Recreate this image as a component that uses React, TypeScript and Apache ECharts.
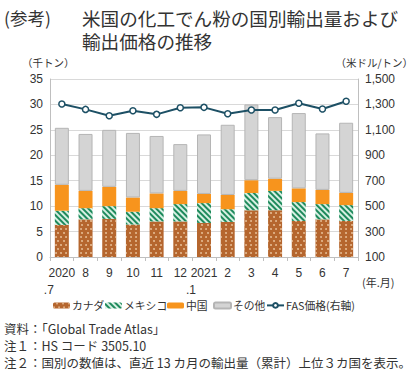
import React, { useEffect, useRef } from "react";
import * as echarts from "echarts";

const categories = ["2020\n.7", "8", "9", "10", "11", "12", "2021\n.1", "2", "3", "4", "5", "6", "7"];
const canada = [6.3, 7.4, 7.5, 6.4, 7.0, 7.0, 6.7, 6.9, 9.2, 9.2, 7.1, 7.4, 7.1];
const mexico = [2.8, 2.2, 2.5, 2.5, 2.6, 3.4, 3.9, 2.5, 3.4, 3.8, 3.7, 3.0, 3.1];
const china = [5.1, 3.4, 3.8, 2.8, 2.9, 2.6, 1.8, 2.8, 2.5, 2.4, 2.7, 2.8, 2.4];
const others = [11.2, 11.2, 11.2, 12.7, 11.3, 9.2, 11.7, 13.8, 14.9, 12.1, 14.8, 11.1, 13.8];
const fasPrice = [1303, 1261, 1211, 1250, 1222, 1274, 1277, 1227, 1256, 1256, 1309, 1264, 1325];
const seriesNames = ["カナダ", "メキシコ", "中国", "その他", "FAS価格(右軸)"];

const RIGHT_MIN = 100;
const FONT = "'Liberation Sans', 'Noto Sans CJK JP', sans-serif";
const JFONT = "'Noto Sans CJK JP', sans-serif";
const legendLeft = [53, 105, 167, 213, 266];

export default function App() {
  const ref = useRef<HTMLDivElement>(null);
  useEffect(() => {
    if (!ref.current) return;
    const chart = echarts.init(ref.current, undefined, { renderer: "svg" });
    chart.setOption({
      animation: false,
      textStyle: { fontFamily: FONT },
      grid: { left: 50, right: 62, top: 79, bottom: 116 },
      legend: seriesNames.map((n, i) => ({
        left: legendLeft[i],
        top: 300,
        padding: 0,
        itemWidth: 17,
        itemHeight: 6,
        textStyle: { fontSize: 10.8, color: "#333", fontFamily: JFONT, padding: [0, 0, 0, -3] },
        data: [n],
      })),
      xAxis: {
        type: "category",
        data: categories,
        axisLine: { lineStyle: { color: "#bfbfbf" } },
        axisTick: { show: true, length: 4, lineStyle: { color: "#bfbfbf" } },
        axisLabel: {
          interval: 0,
          margin: 7,
          color: "#333",
          fontSize: 12,
          lineHeight: 17,
          formatter: (v: string) => {
            const parts = v.split("\n");
            if (parts.length > 1) return `{a|${parts[0]}}\n{b|${parts[1]}}`;
            return `{a|${v}}`;
          },
          rich: {
            a: { fontSize: 12, color: "#333", fontFamily: FONT, lineHeight: 17 },
            b: { fontSize: 12, color: "#333", fontFamily: FONT, lineHeight: 17, padding: [0, 26, 0, 0] },
          },
        },
      },
      yAxis: [
        {
          type: "value",
          min: 0,
          max: 35,
          interval: 5,
          axisLine: { show: true, lineStyle: { color: "#bfbfbf" } },
          axisTick: { show: false },
          splitLine: { lineStyle: { color: "#d9d9d9" } },
          axisLabel: { color: "#333", fontSize: 12, margin: 7 },
        },
        {
          type: "value",
          min: 0,
          max: 1400,
          interval: 200,
          position: "right",
          axisLine: { show: true, lineStyle: { color: "#bfbfbf" } },
          axisTick: { show: false },
          splitLine: { show: false },
          axisLabel: {
            color: "#333",
            fontSize: 12,
            margin: 7,
            formatter: (v: number) => (v + RIGHT_MIN).toLocaleString("en-US"),
          },
        },
      ],
      series: [
        {
          name: seriesNames[0],
          type: "bar",
          stack: "t",
          barWidth: 14,
          data: canada,
          itemStyle: {
            color: "#b5662e",
            decal: {
              symbol: "circle",
              symbolSize: 0.8,
              color: "rgba(250,225,190,0.85)",
              dashArrayX: [[2, 3], [0, 2.5, 2, 0.5]],
              dashArrayY: [2, 1.5],
            },
          },
        },
        {
          name: seriesNames[1],
          type: "bar",
          stack: "t",
          data: mexico,
          itemStyle: {
            color: "#d6efe2",
            decal: {
              symbol: "rect",
              symbolSize: 1,
              color: "#1e8a5c",
              dashArrayX: [[1, 0]],
              dashArrayY: [1.4, 1.2],
              rotation: Math.PI / 4,
            },
          },
        },
        {
          name: seriesNames[2],
          type: "bar",
          stack: "t",
          data: china,
          itemStyle: { color: "#f7941d" },
        },
        {
          name: seriesNames[3],
          type: "bar",
          stack: "t",
          data: others,
          itemStyle: { color: "#d4d4d4", borderColor: "#b5b5b5", borderWidth: 1 },
        },
        {
          name: seriesNames[4],
          type: "line",
          yAxisIndex: 1,
          data: fasPrice.map((v) => v - RIGHT_MIN),
          symbol: "circle",
          symbolSize: 6,
          lineStyle: { color: "#1d5065", width: 2 },
          itemStyle: { color: "#ffffff", borderColor: "#1d5065", borderWidth: 1.5 },
        },
      ],
      graphic: [
        { type: "text", left: 4, top: 7, style: { text: "(参考)", fontSize: 17.5, lineHeight: 20, fill: "#333", fontFamily: JFONT } },
        {
          type: "text",
          left: 82,
          top: 6,
          style: {
            text: "米国の化工でん粉の国別輸出量および\n輸出価格の推移",
            fontSize: 18.6,
            lineHeight: 23,
            fill: "#333",
            fontFamily: JFONT,
          },
        },
        { type: "text", left: 22, top: 57, style: { text: "（千トン）", fontSize: 10.5, fill: "#333", fontFamily: JFONT } },
        { type: "text", right: 7, top: 57, style: { text: "（米ドル/トン）", fontSize: 10.5, fill: "#333", fontFamily: JFONT } },
        { type: "text", left: 362, top: 276, style: { text: "(年.月)", fontSize: 11, fill: "#333", fontFamily: JFONT } },
        {
          type: "text",
          left: 4,
          top: 320,
          style: {
            text: "資料：「Global Trade Atlas」\n注１：HS コード 3505.10\n注２：国別の数値は、直近 13 カ月の輸出量（累計）上位３カ国を表示。",
            fontSize: 12.5,
            lineHeight: 17,
            fill: "#333",
            fontFamily: JFONT,
          },
        },
      ],
    });
    return () => chart.dispose();
  }, []);
  return <div ref={ref} style={{ width: 420, height: 373, position: "absolute", left: 0, top: 0 }} />;
}
